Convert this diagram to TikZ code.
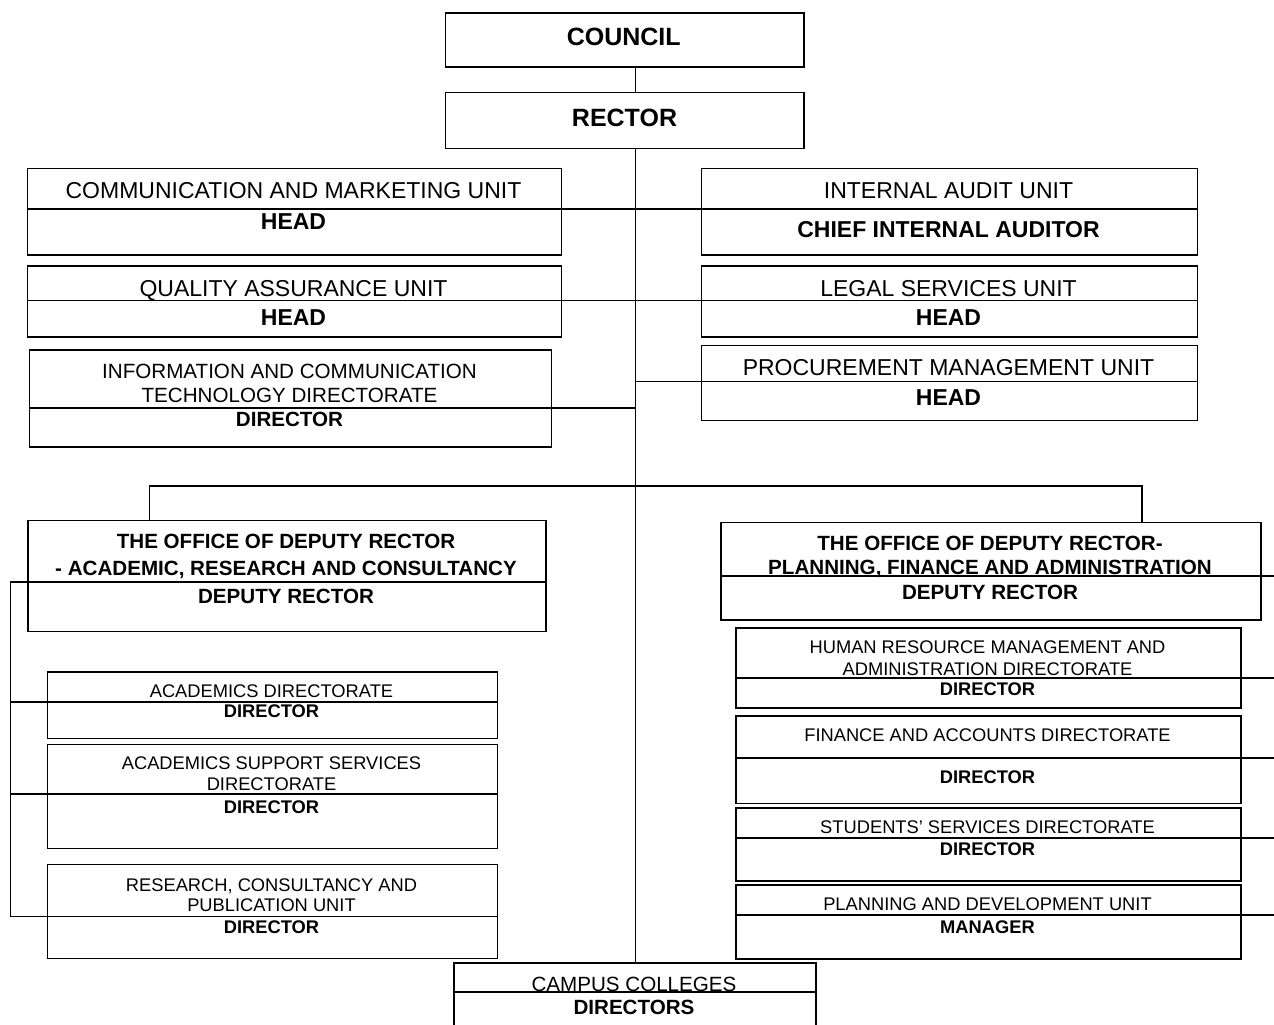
\documentclass[tikz,border=0pt]{standalone}
\usepackage{fontspec}
\setmainfont{Liberation Sans}
\tikzset{
	unitbox/.style={draw, line width=1.8pt, inner sep=0pt, anchor=north west},
	link/.style={line width=1.8pt},
	toptxt/.style={font=\fontsize{25}{30}\selectfont\bfseries, anchor=base, inner sep=0pt},
	untxt/.style={font=\fontsize{23}{27}\selectfont, anchor=base, inner sep=0pt},
	unrole/.style={untxt, font=\fontsize{23}{27}\selectfont\bfseries},
	midtxt/.style={font=\fontsize{20.6}{24}\selectfont, anchor=base, inner sep=0pt},
	midrole/.style={midtxt, font=\fontsize{20.6}{24}\selectfont\bfseries},
	smtxt/.style={font=\fontsize{18.3}{22}\selectfont, anchor=base, inner sep=0pt},
	smrole/.style={smtxt, font=\fontsize{18.3}{22}\selectfont\bfseries}
}
\begin{document}
\begin{tikzpicture}[x=1pt, y=-1pt]
		\useasboundingbox (0,0) rectangle (1274,1025);
		% top
		\node[unitbox, minimum width=358.5pt, minimum height=53.5pt] (council) at (444.5,12.5) {};
		\node[toptxt] (council-t) at (623.7,46) {COUNCIL};
		\node[unitbox, minimum width=358.5pt, minimum height=56pt] (rector) at (444.5,91.5) {};
		\node[toptxt] (rector-t) at (624.5,126) {RECTOR};
		\coordinate (spine) at (635.5,147.5);

		% units beside the rector
		\node[unitbox, minimum width=534pt, minimum height=86.5pt] (comm) at (26.5,167.5) {};
		\node[untxt] (comm-t) at (293.5,198.3) {COMMUNICATION AND MARKETING UNIT};
		\node[unrole] (comm-r) at (293.5,229.3) {HEAD};
		\node[unitbox, minimum width=496pt, minimum height=86.5pt] (audit) at (700.5,167.5) {};
		\node[untxt] (audit-t) at (948.5,198.3) {INTERNAL AUDIT UNIT};
		\node[unrole] (audit-r) at (948.5,237.7) {CHIEF INTERNAL AUDITOR};

		\node[unitbox, minimum width=534pt, minimum height=71pt] (qa) at (26.5,265) {};
		\node[untxt] (qa-t) at (293.5,296) {QUALITY ASSURANCE UNIT};
		\node[unrole] (qa-r) at (293.5,325.7) {HEAD};
		\node[unitbox, minimum width=496pt, minimum height=71pt] (legal) at (700.5,265) {};
		\node[untxt] (legal-t) at (948.5,296) {LEGAL SERVICES UNIT};
		\node[unrole] (legal-r) at (948.5,325.7) {HEAD};

		\node[unitbox, minimum width=522pt, minimum height=97pt] (ict) at (28.5,349) {};
		\node[midtxt] (ict-t1) at (289.5,378.3) {INFORMATION AND COMMUNICATION};
		\node[midtxt] (ict-t2) at (289.5,402.3) {TECHNOLOGY DIRECTORATE};
		\node[midrole] (ict-r) at (289.5,426) {DIRECTOR};
		\node[unitbox, minimum width=496pt, minimum height=75pt] (proc) at (700.5,344.5) {};
		\node[untxt] (proc-t) at (948.5,375) {PROCUREMENT MANAGEMENT UNIT};
		\node[unrole] (proc-r) at (948.5,405.7) {HEAD};

		% deputy rectors
		\node[unitbox, minimum width=518pt, minimum height=111pt] (dra) at (27,519.5) {};
		\node[midrole] (dra-t1) at (286,548.3) {THE OFFICE OF DEPUTY RECTOR};
		\node[midrole] (dra-t2) at (286,575) {- ACADEMIC, RESEARCH AND CONSULTANCY};
		\node[midrole] (dra-r) at (286,603.3) {DEPUTY RECTOR};
		\node[unitbox, minimum width=540pt, minimum height=97.5pt] (pfa) at (720,521.5) {};
		\node[midrole] (pfa-t1) at (990,550.7) {THE OFFICE OF DEPUTY RECTOR-};
		\node[midrole] (pfa-t2) at (990,574) {PLANNING, FINANCE AND ADMINISTRATION};
		\node[midrole] (pfa-r) at (990,599) {DEPUTY RECTOR};

		% academic side
		\node[unitbox, minimum width=450pt, minimum height=66.5pt] (acad) at (46.5,671) {};
		\node[smtxt] (acad-t) at (271.5,697.3) {ACADEMICS DIRECTORATE};
		\node[smrole] (acad-r) at (271.5,717.7) {DIRECTOR};
		\node[unitbox, minimum width=450pt, minimum height=104pt] (supp) at (46.5,743.5) {};
		\node[smtxt] (supp-t1) at (271.5,769.3) {ACADEMICS SUPPORT SERVICES};
		\node[smtxt] (supp-t2) at (271.5,790.7) {DIRECTORATE};
		\node[smrole] (supp-r) at (271.5,813.3) {DIRECTOR};
		\node[unitbox, minimum width=450pt, minimum height=94pt] (res) at (46.5,863.5) {};
		\node[smtxt] (res-t1) at (271.5,891) {RESEARCH, CONSULTANCY AND};
		\node[smtxt] (res-t2) at (271.5,911.7) {PUBLICATION UNIT};
		\node[smrole] (res-r) at (271.5,933.3) {DIRECTOR};

		% administration side
		\node[unitbox, minimum width=505pt, minimum height=80.5pt] (hrm) at (735,626.7) {};
		\node[smtxt] (hrm-t1) at (987.5,653.3) {HUMAN RESOURCE MANAGEMENT AND};
		\node[smtxt] (hrm-t2) at (987.5,675) {ADMINISTRATION DIRECTORATE};
		\node[smrole] (hrm-r) at (987.5,695.7) {DIRECTOR};
		\node[unitbox, minimum width=505pt, minimum height=87.5pt] (fin) at (735,715) {};
		\node[smtxt] (fin-t) at (987.5,741.7) {FINANCE AND ACCOUNTS DIRECTORATE};
		\node[smrole] (fin-r) at (987.5,783) {DIRECTOR};
		\node[unitbox, minimum width=505pt, minimum height=72.7pt] (stud) at (735,807.3) {};
		\node[smtxt] (stud-t) at (987.5,833.3) {STUDENTS’ SERVICES DIRECTORATE};
		\node[smrole] (stud-r) at (987.5,855) {DIRECTOR};
		\node[unitbox, minimum width=505pt, minimum height=73.4pt] (plan) at (735,884.3) {};
		\node[smtxt] (plan-t) at (987.5,910.7) {PLANNING AND DEVELOPMENT UNIT};
		\node[smrole] (plan-r) at (987.5,933.3) {MANAGER};

		% campus colleges
		\node[unitbox, minimum width=362pt, minimum height=75pt] (campus) at (453,962) {};
		\node[midtxt] (campus-t) at (634,991) {CAMPUS COLLEGES};
		\node[midrole] (campus-r) at (634,1014.3) {DIRECTORS};
		\draw[link] (campus.west |- 0,991.7) -- (campus.east |- 0,991.7);

		% lines
		\draw[link] (spine |- council.south) -- (spine |- rector.north);
		\draw[link] (spine |- rector.south) -- (spine |- campus.north);
		\draw[link] (comm.west |- 0,209) -- (audit.east |- 0,209);
		\draw[link] (qa.west |- 0,300.5) -- (legal.east |- 0,300.5);
		\draw[link] (ict.west |- 0,408) -- (spine |- 0,408);
		\draw[link] (spine |- 0,381.5) -- (proc.east |- 0,381.5);
		\coordinate (bus) at (635.5,486);
		\draw[link] (dra.north -| 149.5,0) |- (bus) -| (pfa.north -| 1142,0);
		\coordinate (lbus) at (10.5,582);
		\draw[link] (dra.east |- lbus) -- (lbus) |- (res.east |- 0,916.5);
		\draw[link] (lbus |- 0,701.7) -- (acad.east |- 0,701.7);
		\draw[link] (lbus |- 0,794) -- (supp.east |- 0,794);
		\coordinate (rbus) at (1275,576);
		\draw[link] (pfa.west |- rbus) -- (rbus);
		\draw[link] (hrm.west |- 0,678.3) -- (rbus |- 0,678.3);
		\draw[link] (fin.west |- 0,758.3) -- (rbus |- 0,758.3);
		\draw[link] (stud.west |- 0,838) -- (rbus |- 0,838);
		\draw[link] (plan.west |- 0,915) -- (rbus |- 0,915);
\end{tikzpicture}
\end{document}
